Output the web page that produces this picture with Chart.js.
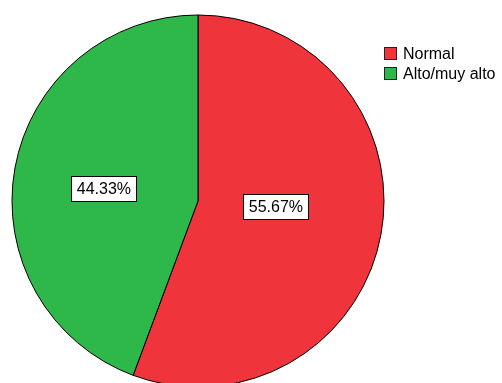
<!DOCTYPE html>
<html>
<head>
<meta charset="utf-8">
<script src="https://cdn.jsdelivr.net/npm/chart.js@4"></script>
<style>
  html, body { margin: 0; padding: 0; background: #fff; }
  #wrap { width: 502px; height: 383px; position: relative; }
</style>
</head>
<body>
<div id="wrap"><canvas id="pieCanvas"></canvas></div>
<script>
const categories = ['Normal', 'Alto/muy alto'];
const percents = [55.67, 44.33];
const sliceColors = ['rgb(240,52,60)', 'rgb(46,184,74)'];

// where each percent label sits: fraction of radius, angle nudge in degrees
const labelPlace = [{ r: 0.42, da: -6 }, { r: 0.51, da: -3 }];

const fontFamily = '"Liberation Sans", Arial, sans-serif';

// percent boxes on the slices
const boxLabels = {
    id: 'boxLabels',
    afterDatasetsDraw(chart) {
        const ctx = chart.ctx;
        const meta = chart.getDatasetMeta(0);
        ctx.save();
        ctx.font = '16px ' + fontFamily;
        ctx.textAlign = 'center';
        ctx.textBaseline = 'middle';
        meta.data.forEach((arc, i) => {
            const p = arc.getProps(['x', 'y', 'startAngle', 'endAngle', 'outerRadius'], true);
            const mid = (p.startAngle + p.endAngle) / 2 + labelPlace[i].da * Math.PI / 180;
            const dist = p.outerRadius * labelPlace[i].r;
            const cx = p.x + Math.cos(mid) * dist;
            const cy = p.y + Math.sin(mid) * dist;
            const txt = percents[i].toFixed(2) + '%';
            const w = Math.round(ctx.measureText(txt).width + 12);
            const h = 26;
            const bx = Math.round(cx - w / 2), by = Math.round(cy - h / 2);
            ctx.fillStyle = '#fff';
            ctx.fillRect(bx, by, w, h);
            ctx.strokeStyle = '#000';
            ctx.lineWidth = 1;
            ctx.strokeRect(bx + 0.5, by + 0.5, w - 1, h - 1);
            ctx.fillStyle = '#000';
            ctx.fillText(txt, cx, by + h / 2 + 1);
        });
        ctx.restore();
    }
};

// legend in the top right
const sideLegend = {
    id: 'sideLegend',
    afterDraw(chart) {
        const ctx = chart.ctx;
        const x = 384, y0 = 47, step = 20, box = 13;
        ctx.save();
        ctx.font = '16px ' + fontFamily;
        ctx.textBaseline = 'middle';
        chart.data.labels.forEach((lab, i) => {
            const y = y0 + i * step;
            ctx.fillStyle = chart.data.datasets[0].backgroundColor[i];
            ctx.fillRect(x, y, box, box);
            ctx.strokeStyle = '#222';
            ctx.lineWidth = 1;
            ctx.strokeRect(x + 0.5, y + 0.5, box - 1, box - 1);
            ctx.fillStyle = '#000';
            ctx.fillText(lab, x + box + 6, y + box / 2 + 1);
        });
        ctx.restore();
    }
};

var ctx_pie = document.getElementById('pieCanvas').getContext('2d');
var pieChart = new Chart(ctx_pie, {
    type: 'pie',
    data: {
        labels: categories,
        datasets: [{
            data: percents,
            backgroundColor: sliceColors,
            borderColor: '#000',
            borderWidth: 1,
            radius: 186
        }]
    },
    options: {
        responsive: true,
        maintainAspectRatio: false,
        animation: false,
        layout: {
            padding: { left: 11, right: 117, top: 19, bottom: 0 }
        },
        plugins: {
            legend: { display: false },
            tooltip: { enabled: false }
        }
    },
    plugins: [boxLabels, sideLegend]
});
</script>
</body>
</html>
